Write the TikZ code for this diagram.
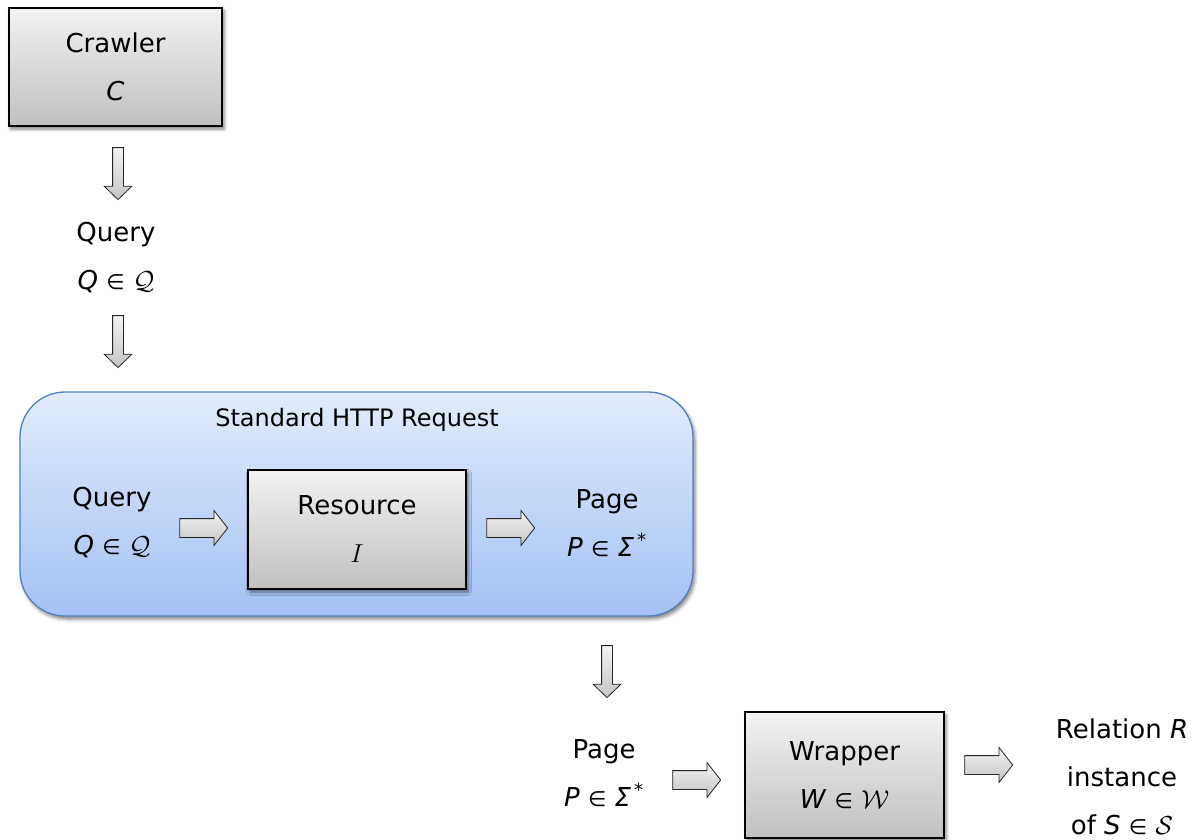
\documentclass[tikz,border=0pt]{standalone}
\usepackage{fontspec}
\setmainfont{DejaVu Sans}
\usepackage{fix-cm}
\usetikzlibrary{shapes.arrows,shadows.blur}

\definecolor{boxtop}{HTML}{F2F2F2}
\definecolor{boxbot}{HTML}{C0C0C0}
\definecolor{reqtop}{HTML}{E2ECFC}
\definecolor{reqbot}{HTML}{A3C1F4}
\definecolor{reqedge}{HTML}{4F81BD}
\definecolor{arrtop}{HTML}{F4F4F4}
\definecolor{arrbot}{HTML}{C4C4C4}

\newcommand{\memb}{~{\fontsize{21}{21}\selectfont ∈}~}
\newcommand{\kleene}{\textit{Σ}\textsuperscript{\,*}}

\begin{document}
\begin{tikzpicture}[x=1pt,y=-1pt,
  txt/.style={font=\fontsize{26}{48}\selectfont, align=center, inner sep=0pt},
  softshadow/.style={blur shadow={shadow xshift=2pt, shadow yshift=-3pt, shadow opacity=50, shadow blur radius=3.5pt}},
  gbox/.style={draw=black, line width=1.5pt, top color=boxtop, bottom color=boxbot, softshadow, txt},
  reqbox/.style={draw=reqedge, line width=1.3pt, top color=reqtop, bottom color=reqbot, rounded corners=45pt, softshadow},
  blockarrow/.style={single arrow, draw=black!85, line width=0.8pt, top color=arrtop, bottom color=arrbot, single arrow head indent=0pt},
  downarr/.style={blockarrow, shape border rotate=270, inner sep=5pt, minimum width=27pt, minimum height=52pt, single arrow head extend=8.5pt, single arrow tip angle=92},
  rightarr/.style={blockarrow, inner xsep=0pt, inner ysep=9pt, minimum width=34pt, minimum height=48pt, single arrow head extend=8pt, single arrow tip angle=104}
]
\useasboundingbox (0,0) rectangle (1197,840);

% crawler and the query it issues
\node[gbox, minimum width=213pt, minimum height=118pt] (crawler) at (115.5,67) {Crawler\\\textit{C}};
\node[downarr] (a1) at (118,171) {};
\node[txt] (q1) at (116,258) {Query\\\textit{Q}\memb$\mathcal{Q}$};
\node[downarr] (a2) at (118,339) {};

% the HTTP request block
\node[reqbox, minimum width=673pt, minimum height=224pt] (req) at (356.5,504) {};
\node[font=\fontsize{24}{28}\selectfont, inner sep=0pt] (reqlabel) at (357,420) {Standard HTTP Request};
\node[txt] (q2) at (112,523) {Query\\\textit{Q}\memb$\mathcal{Q}$};
\node[rightarr] (a3) at (200,528) {};
\node[gbox, minimum width=218pt, minimum height=119pt] (res) at (357,529.5) {Resource\\$I$};
\node[rightarr] (a4) at (507,528) {};
\node[txt] (p1) at (607,523) {Page\\\textit{P}\memb\kleene};

% wrapping the returned page
\node[downarr] (a5) at (607,669) {};
\node[txt] (p2) at (604,773) {Page\\\textit{P}\memb\kleene};
\node[rightarr] (a6) at (693,780) {};
\node[gbox, minimum width=199pt, minimum height=126pt] (wrap) at (844.5,775) {Wrapper\\\textit{W}\memb$\mathcal{W}$};
\node[rightarr] (a7) at (985,765) {};
\node[txt] (rel) at (1122,777) {Relation \textit{R}\\instance\\of \textit{S}\memb$\mathcal{S}$};
\end{tikzpicture}
\end{document}
